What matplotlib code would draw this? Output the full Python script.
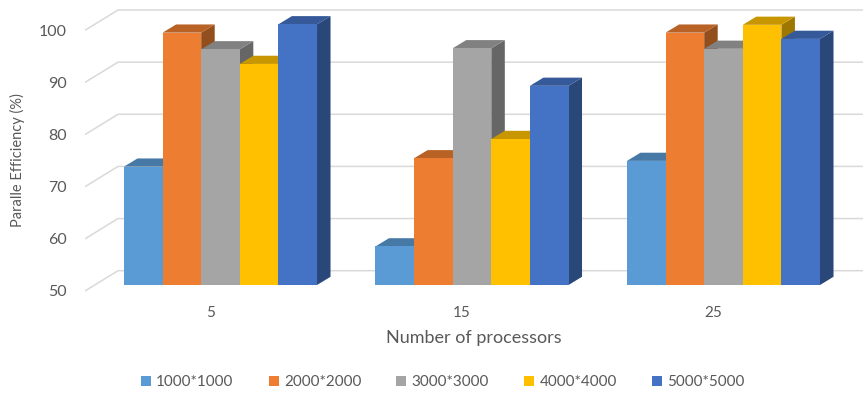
import numpy as np
import matplotlib as mpl
mpl.use('Agg')
import matplotlib.pyplot as plt
from matplotlib.patches import Polygon, Patch
from matplotlib.colors import to_rgb

# efficiency (%) per matrix size, for 5 / 15 / 25 processors
processors = ['5', '15', '25']
sizes = ['1000*1000', '2000*2000', '3000*3000', '4000*4000', '5000*5000']
eff_1000 = [72.7, 57.4, 73.8]
eff_2000 = [98.4, 74.3, 98.4]
eff_3000 = [95.2, 95.4, 95.3]
eff_4000 = [92.4, 78.0, 99.9]
eff_5000 = [100.0, 88.2, 97.2]
y_ticks = [50, 60, 70, 80, 90, 100]

series = [eff_1000, eff_2000, eff_3000, eff_4000, eff_5000]
colors = ['#5B9BD5', '#ED7D31', '#A5A5A5', '#FFC000', '#4472C4']


def shade(c, f):
    return tuple(np.array(to_rgb(c)) * f)


plt.rcParams['font.family'] = ['Lato', 'DejaVu Sans']
text_col = '#595959'
grid_col = '#D9D9D9'

fig = plt.figure(figsize=(8.63, 3.94), dpi=100)
ax = fig.add_axes([0.0985, 0.2513, 0.9015, 0.7487])
ax.set_xlim(-0.5388, 2.5547)
ax.set_ylim(48.08, 104.66)

base = 50.0
bw = 0.1535           # bar width (category units)
ddx, ddy = 0.0537, 1.57  # bar depth offset
fp_dy = 1.15          # front plane sits below bar fronts
wall_dy = 2.74        # back wall sits above bar fronts
fp_x, wall_x = -0.5388, -0.4076

# 3d-ish gridlines: diagonal on the side wall, then along the back wall
for v in y_ticks:
    ax.plot([fp_x, wall_x, 2.6], [v - fp_dy, v + wall_dy, v + wall_dy],
            color=grid_col, lw=1.1, zorder=0, solid_capstyle='butt')

x = np.arange(len(processors))
for j, (vals, col) in enumerate(zip(series, colors)):
    left = x - 2.5 * bw + j * bw
    z = 2 + j * 3
    ax.bar(left, np.array(vals) - base, bottom=base, width=bw, align='edge',
           color=col, linewidth=0, zorder=z + 2)
    for l, v in zip(left, vals):
        top = Polygon([(l, v), (l + ddx, v + ddy), (l + bw + ddx, v + ddy), (l + bw, v)],
                      closed=True, facecolor=shade(col, 0.78), edgecolor='none', zorder=z + 1)
        side = Polygon([(l + bw, base), (l + bw + ddx, base + ddy), (l + bw + ddx, v + ddy), (l + bw, v)],
                       closed=True, facecolor=shade(col, 0.62), edgecolor='none', zorder=z)
        ax.add_patch(top)
        ax.add_patch(side)

for s in ax.spines.values():
    s.set_visible(False)

ax.set_yticks([v - fp_dy for v in y_ticks])
ax.set_yticklabels([str(v) for v in y_ticks])
ax.set_xticks(x - 0.04)
ax.set_xticklabels(processors)
ax.tick_params(axis='y', length=0, pad=13, labelsize=11.5, labelcolor=text_col)
ax.tick_params(axis='x', length=0, pad=8, labelsize=11, labelcolor=text_col)

ax.set_xlabel('Number of processors', fontsize=13, color=text_col, labelpad=7)
ax.set_ylabel('Paralle Efficiency (%)', fontsize=10.5, color=text_col)
ax.yaxis.set_label_coords(-0.077, 0.4576)

handles = [Patch(facecolor=c, edgecolor='none') for c in colors]
fig.legend(handles, sizes, loc='center', bbox_to_anchor=(0.513, 0.0305), ncol=5,
           frameon=False, fontsize=11, handlelength=0.65, handleheight=0.65,
           handletextpad=0.35, columnspacing=2.3, labelcolor=text_col)

plt.savefig('out.png', dpi=100)
